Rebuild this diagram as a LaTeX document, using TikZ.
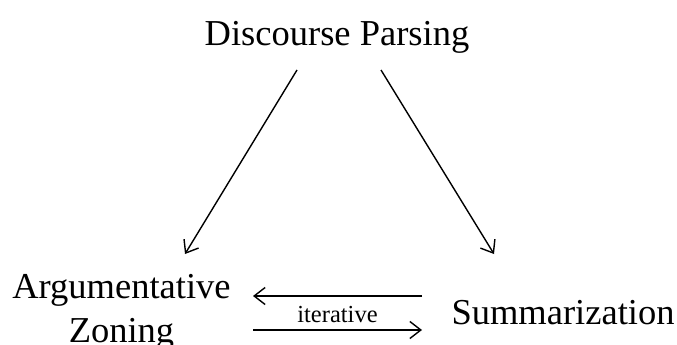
\documentclass[tikz,border=0pt]{standalone}
\usepackage{fontspec}
\setmainfont{Liberation Serif}
\usetikzlibrary{arrows.meta}
\begin{document}
\begin{tikzpicture}[x=1pt,y=-1pt,
  task/.style={inner sep=0pt, anchor=base, align=center,
    font=\fontsize{36.5}{44}\selectfont},
  flow/.style={line width=1.4pt,
    -{Straight Barb[length=11pt,width=17pt,line width=1.4pt]}},
  tag/.style={inner sep=0pt, font=\fontsize{24.5}{28}\selectfont}]
  \useasboundingbox (0,0) rectangle (677,345);

  % the three tasks (base of a two-line node is its last line)
  \node[task] (dp)  at (337,46)    {Discourse Parsing};
  \node[task] (az)  at (121.5,342) {Argumentative\\Zoning};
  \node[task] (sum) at (563,324)   {Summarization};

  % discourse parsing feeds both tasks
  \draw[flow] ([shift={(-40,24)}]dp.base) -- ([shift={(63.5,-88)}]az.base);
  \draw[flow] ([shift={(44,24)}]dp.base) -- ([shift={(-69,-70)}]sum.base);

  % iterative exchange between zoning and summarization
  \draw[flow] ([shift={(-141,-28)}]sum.base) -- ([shift={(131.5,-46)}]az.base);
  \draw[flow] ([shift={(131.5,-12)}]az.base) -- ([shift={(-141,6)}]sum.base)
    node[tag, midway, anchor=base, yshift=8pt] (it) {iterative};
\end{tikzpicture}
\end{document}
